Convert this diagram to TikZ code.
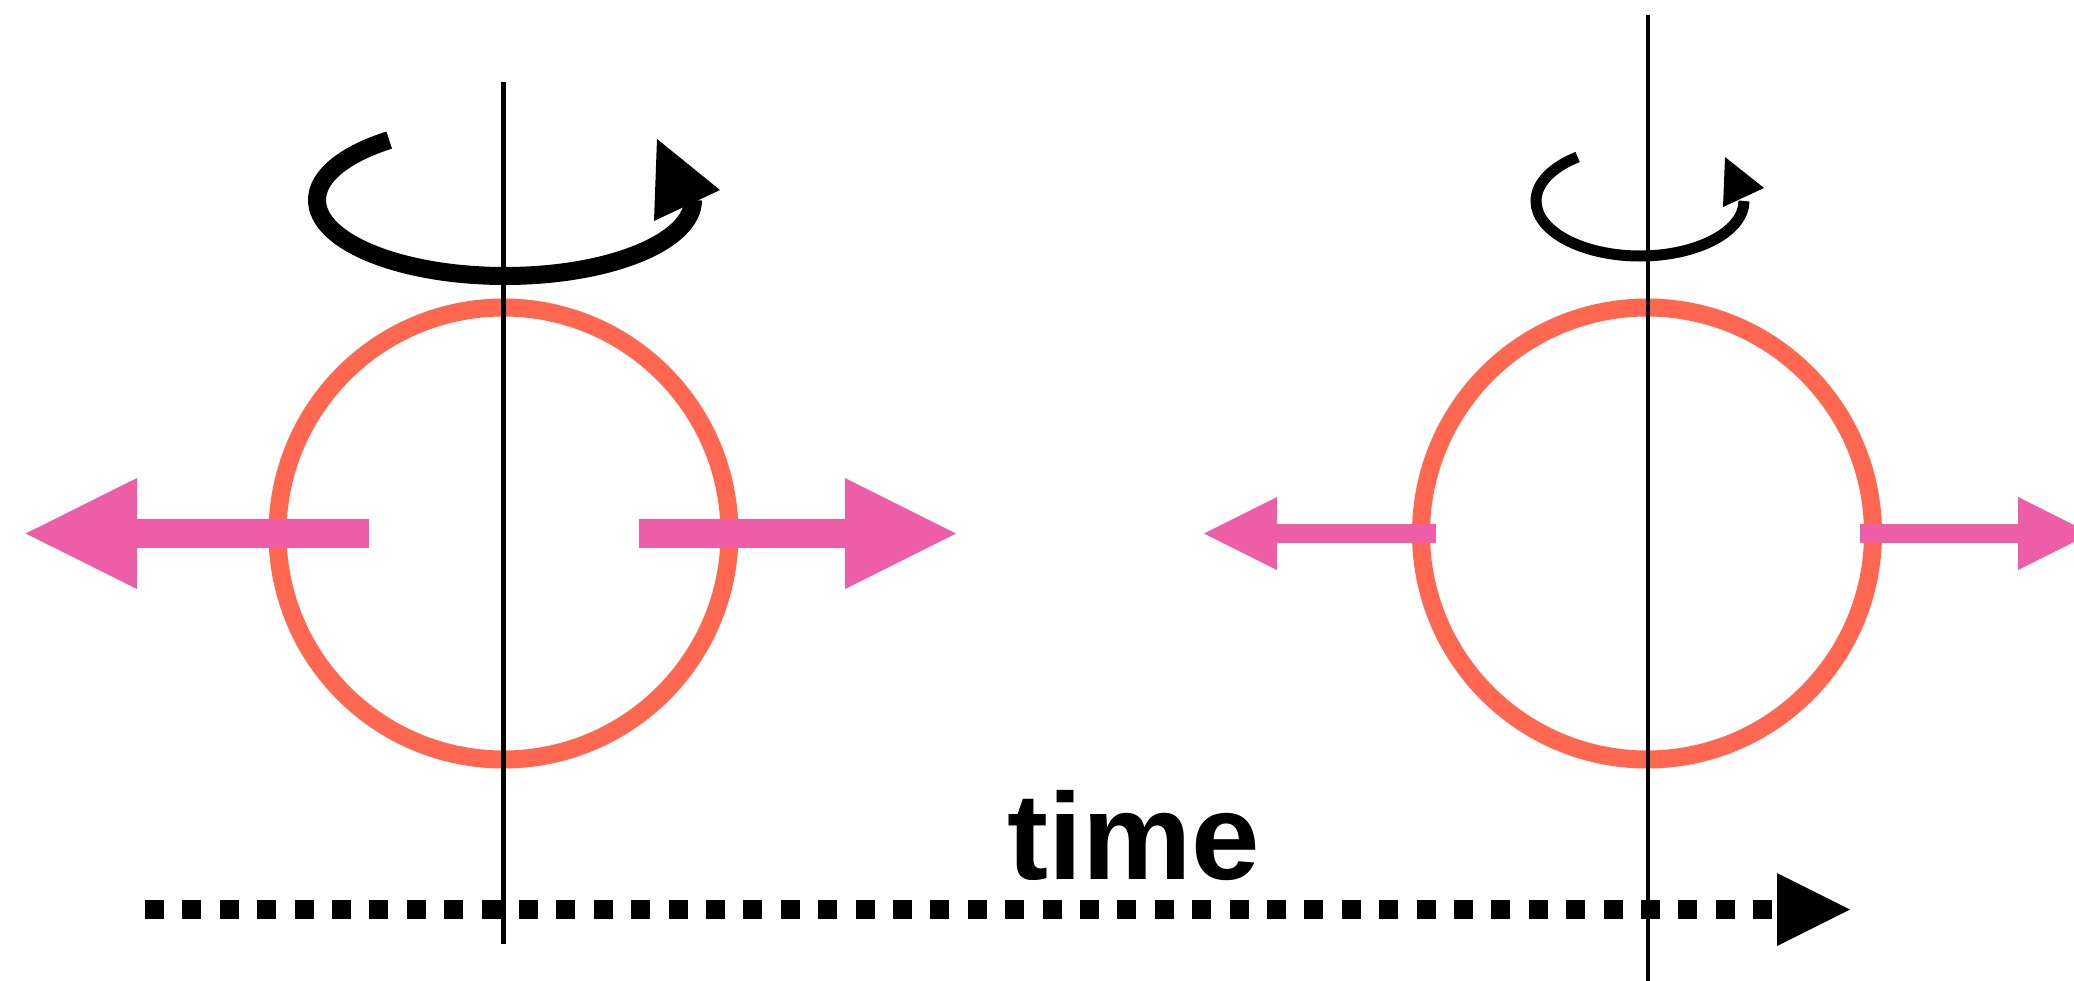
\documentclass[tikz,border=0pt]{standalone}
\usepackage{fontspec}
\setmainfont{Liberation Sans}
\definecolor{ringcol}{RGB}{255,103,80}
\definecolor{pushcol}{RGB}{238,94,166}
\begin{document}
\begin{tikzpicture}[x=1pt,y=-1pt,
  ring/.style={draw=ringcol,line width=18pt},
  spinaxis/.style={draw=black,line width=4.5pt},
  bigshaft/.style={draw=pushcol,line width=29pt},
  smallshaft/.style={draw=pushcol,line width=19pt},
  pushhead/.style={fill=pushcol},
  spinbig/.style={draw=black,line width=18pt},
  spinsmall/.style={draw=black,line width=11pt},
  timeline/.style={draw=black,line width=19pt,dash pattern=on 19pt off 18.4pt},
  label/.style={font=\bfseries\fontsize{123}{130}\selectfont,inner sep=0pt,anchor=base}]
\useasboundingbox (0,0) rectangle (2074,980);

% ---- left state: wide push, strong spin ----
\coordinate (cL) at (503.5,533.5);
\draw[ring] (cL) circle[radius=226pt];

% outward pushes
\coordinate (pLLs) at (368.5,533.5);
\coordinate (pLLb) at (132,533.5);
\coordinate (pLLt) at (25.7,533.5);
\draw[bigshaft] (pLLs) -- (pLLb);
\fill[pushhead] (pLLt) -- (137,478) -- (137,589) -- cycle;
\coordinate (pLRs) at (639,533.5);
\coordinate (pLRb) at (850,533.5);
\coordinate (pLRt) at (956,533.5);
\draw[bigshaft] (pLRs) -- (pLRb);
\fill[pushhead] (pLRt) -- (845,478) -- (845,589) -- cycle;

% rotation arrow
\coordinate (sL0) at (389.2,140.1);
\coordinate (sL1) at (317,200);
\coordinate (sL2) at (505,276);
\coordinate (sL3) at (693,200);
\draw[spinbig] (sL0) .. controls (343.7,154.5) and (317,176.6) .. (sL1)
  .. controls (317,242) and (401.2,276) .. (sL2)
  .. controls (608.8,276) and (693,242) .. (sL3);
\fill (657,139) -- (720,190) -- (654,221) -- cycle;

% axis
\coordinate (aLtop) at (503.5,82);
\coordinate (aLbot) at (503.5,944);
\draw[spinaxis] (aLtop) -- (aLbot);

% ---- right state: narrow push, weak spin ----
\coordinate (cR) at (1647,533.5);
\draw[ring] (cR) circle[radius=226pt];

\coordinate (pRLs) at (1436,533.5);
\coordinate (pRLb) at (1273,533.5);
\coordinate (pRLt) at (1204,533.5);
\draw[smallshaft] (pRLs) -- (pRLb);
\fill[pushhead] (pRLt) -- (1277,497) -- (1277,570) -- cycle;
\coordinate (pRRs) at (1860,533.5);
\coordinate (pRRb) at (2022,533.5);
\coordinate (pRRt) at (2091,533.5);
\draw[smallshaft] (pRRs) -- (pRRb);
\fill[pushhead] (pRRt) -- (2018,497) -- (2018,570) -- cycle;

\coordinate (sR0) at (1577.6,157);
\coordinate (sR1) at (1536,201);
\coordinate (sR2) at (1640,256);
\coordinate (sR3) at (1744,201);
\draw[spinsmall] (sR0) .. controls (1551.4,167.4) and (1536,183.7) .. (sR1)
  .. controls (1536,231.4) and (1582.6,256) .. (sR2)
  .. controls (1697.4,256) and (1744,231.4) .. (sR3);
\fill (1725,157) -- (1764,188) -- (1723,207) -- cycle;

\coordinate (aRtop) at (1648,15);
\coordinate (aRbot) at (1648,985);
\draw[spinaxis] (aRtop) -- (aRbot);

% ---- time axis ----
\coordinate (t0) at (145,909.5);
\coordinate (t1) at (1775,909.5);
\draw[timeline] (t0) -- (t1);
\fill (1850,909.5) -- (1777,873) -- (1777,946) -- cycle;
\node[label] (tlabel) at (1133.5,879) {time};
\end{tikzpicture}
\end{document}
